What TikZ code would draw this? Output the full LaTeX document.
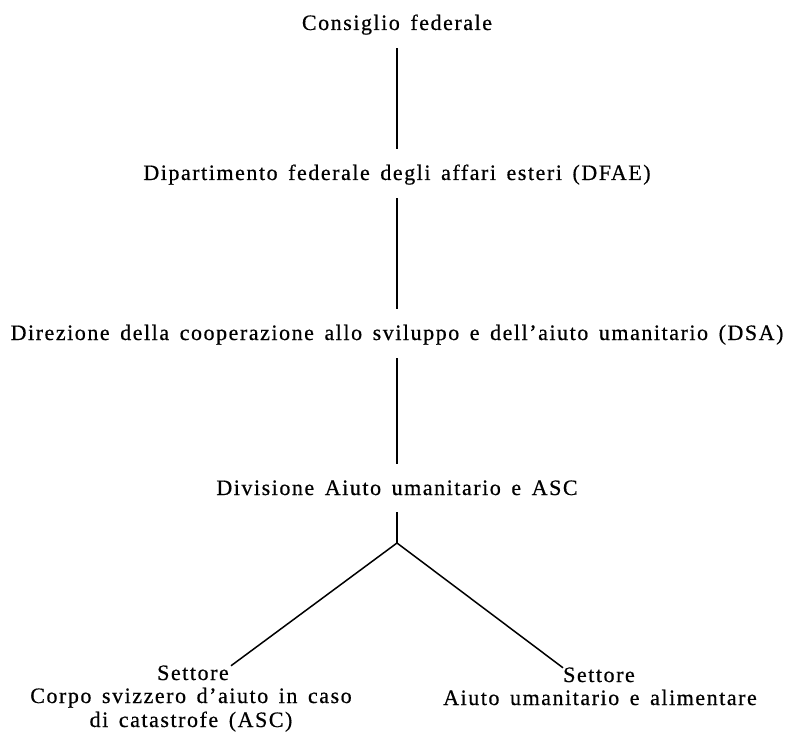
\documentclass[tikz,border=0pt]{standalone}
\usepackage{fontspec}
\setmainfont{Liberation Serif}[LetterSpace=7, WordSpace=1.5, FakeBold=0.6]
\usepackage{tikz}

\tikzset{
  org/.style={font=\fontsize{22}{24}\selectfont, inner sep=0pt,
    text height=15pt, text depth=5pt, anchor=base, align=center},
  link/.style={line width=1.5pt, shorten <=13pt, shorten >=16pt},
  branch/.style={line width=1.5pt}
}

\begin{document}
\begin{tikzpicture}[x=1pt, y=-1pt]
\useasboundingbox (0,0) rectangle (788,741);
% chain of offices
\node[org] (cf)   at (397,30)  {Consiglio federale};
\node[org] (dfae) at (397,180) {Dipartimento federale degli affari esteri (DFAE)};
\node[org] (dsa)  at (397,340) {Direzione della cooperazione allo sviluppo e dell'aiuto umanitario (DSA)};
\node[org] (div)  at (397,495) {Divisione Aiuto umanitario e ASC};
% the two sectors
\node[org, text height=14pt] (setA) at (193,680) {Settore};
\node[org] (descA) at (191,727) {Corpo svizzero d'aiuto in caso\\di catastrofe (ASC)};
\node[org, text height=14pt] (setB) at (599,682) {Settore};
\node[org] (descB) at (600,705) {Aiuto umanitario e alimentare};
\coordinate (fork) at (397,543);
% connectors
\draw[link] (cf) -- (dfae);
\draw[link] (dfae) -- (dsa);
\draw[link] (dsa) -- (div);
\draw[branch, shorten <=12pt] (div.south) -- (fork);
\draw[branch] (fork) -- ([xshift=2pt]setA.north east);
\draw[branch] (fork) -- (setB.north west);
\end{tikzpicture}
\end{document}
